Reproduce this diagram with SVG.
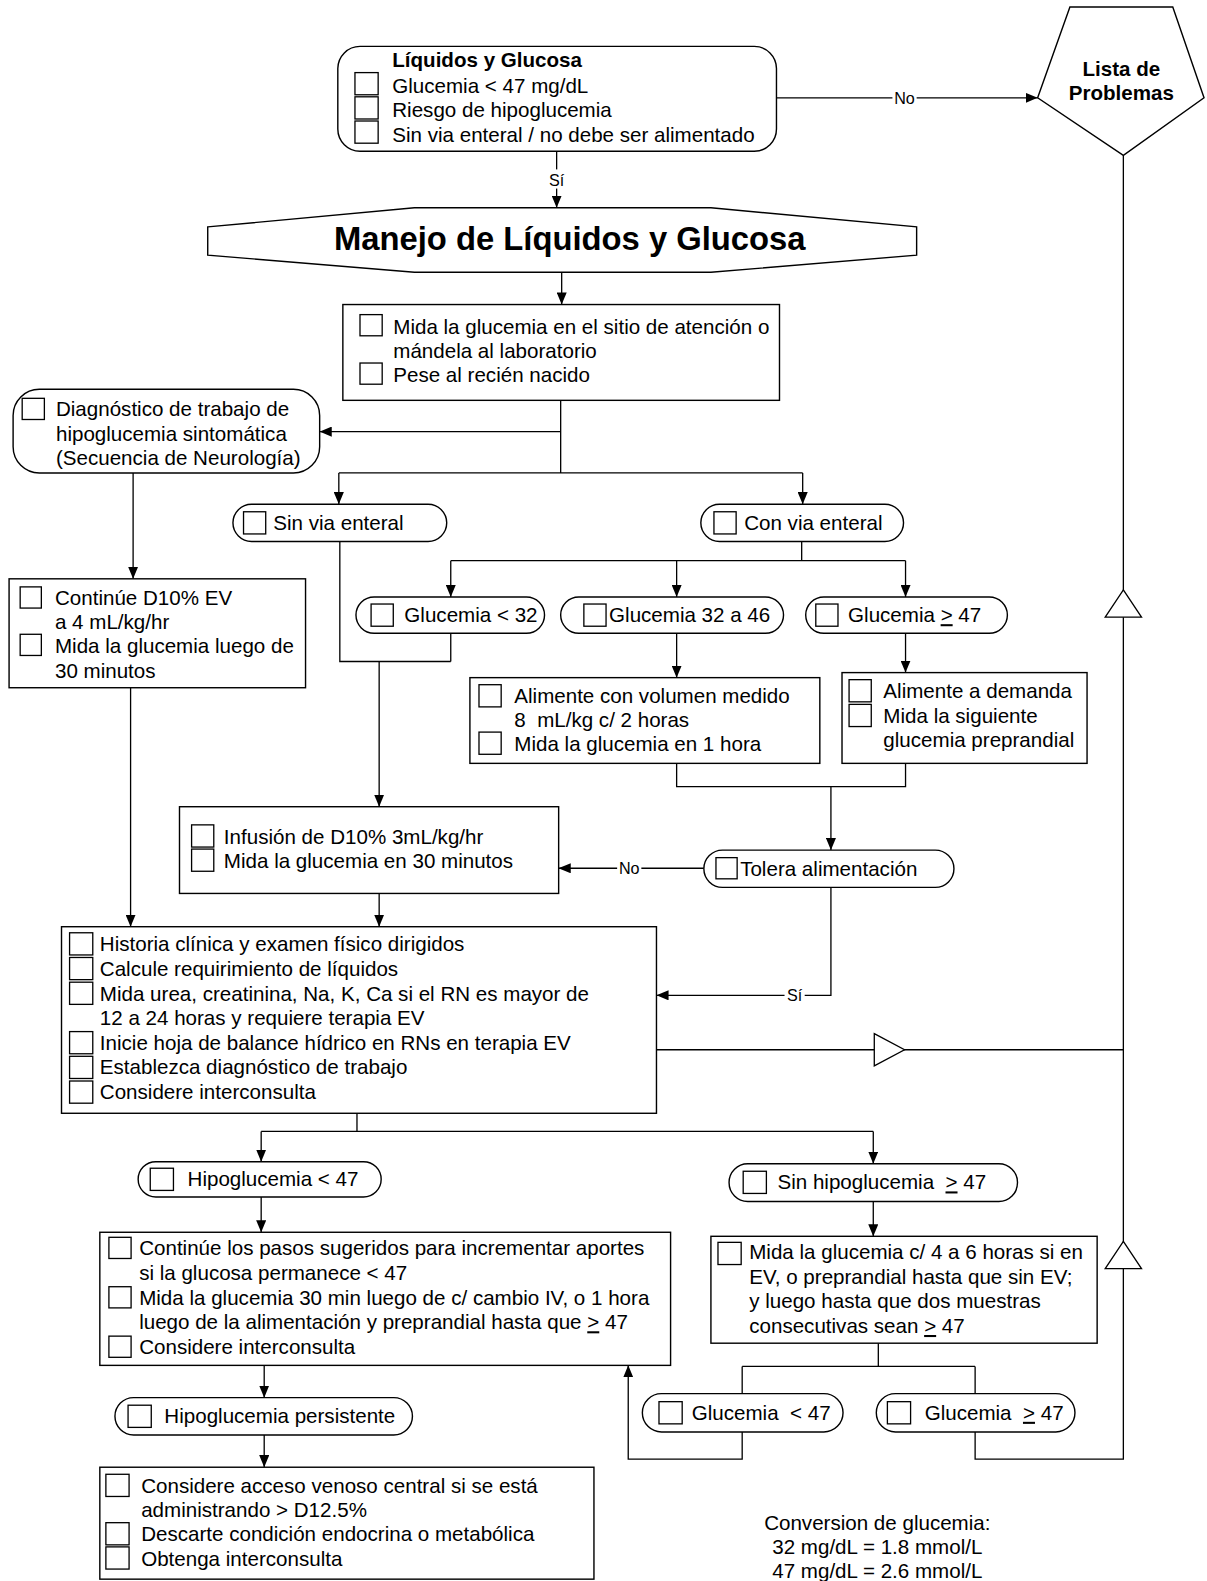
<svg xmlns="http://www.w3.org/2000/svg" width="1207" height="1581" viewBox="0 0 1207 1581">
<defs>
<style>
.box{fill:#fff;stroke:#000;stroke-width:1.4}
.cb{fill:#fff;stroke:#000;stroke-width:1.3}
.t{font-family:"Liberation Sans",Arial,sans-serif;font-size:20.4px;fill:#000}
.b{font-weight:bold}
.pre{white-space:pre}
.c{fill:none;stroke:#000;stroke-width:1.3}
.a{marker-end:url(#ah)}
.lbl{font-family:"Liberation Sans",Arial,sans-serif;font-size:16px;fill:#000;text-anchor:middle}
.tri{fill:#fff;stroke:#000;stroke-width:1.3}
.u{text-decoration:underline}
</style>
<marker id="ah" markerUnits="userSpaceOnUse" markerWidth="12" markerHeight="10" refX="12" refY="5" orient="auto">
<path d="M0,0 L12,5 L0,10 z" fill="#000"/>
</marker>
</defs>
<rect width="1207" height="1581" fill="#fff"/>
<g transform="scale(1.0084)">
<g id="connectors">
<path class="c a" d="M770,97 H1029"/>
<rect x="885" y="89" width="24" height="16" fill="#fff"/>
<text class="lbl" x="897" y="103">No</text>
<path class="c a" d="M552,150 V206"/>
<rect x="542" y="168" width="20" height="19" fill="#fff"/>
<text class="lbl" x="552" y="184">Sí</text>
<path class="c a" d="M557,270 V302"/>
<path class="c" d="M556,397 V469"/>
<path class="c a" d="M556,428 H317"/>
<path class="c" d="M336,469 H796"/>
<path class="c a" d="M336,469 V500"/>
<path class="c a" d="M796,469 V500"/>
<path class="c a" d="M132,469 V574"/>
<path class="c" d="M795,537 V556 M447,556 H898"/>
<path class="c a" d="M447,556 V592"/>
<path class="c a" d="M671,556 V592"/>
<path class="c a" d="M898,556 V592"/>
<path class="c" d="M337,537 V656 H447 M447,628 V656"/>
<path class="c a" d="M376,656 V800"/>
<path class="c a" d="M671,628 V672"/>
<path class="c a" d="M898,628 V667"/>
<path class="c" d="M671,757 V780 H898 V757"/>
<path class="c a" d="M824,780 V843"/>
<path class="c a" d="M698,861 H554"/>
<rect x="612" y="853" width="24" height="16" fill="#fff"/>
<text class="lbl" x="624" y="867">No</text>
<path class="c a" d="M824,880 V987 H651"/>
<rect x="778" y="979" width="20" height="17" fill="#fff"/>
<text class="lbl" x="788" y="993">Sí</text>
<path class="c a" d="M376,886 V919"/>
<path class="c a" d="M129.5,682 V919"/>
<path class="c" d="M651,1041 H1114"/>
<polygon class="tri" points="867,1025 897,1041 867,1057"/>
<path class="c" d="M1114,154 V1447 H967 V1420"/>
<polygon class="tri" points="1114,585 1132,612 1096,612"/>
<polygon class="tri" points="1114,1231 1132,1258 1096,1258"/>
<path class="c" d="M354,1104 V1122 M259,1122 H866"/>
<path class="c a" d="M259,1122 V1152"/>
<path class="c a" d="M866,1122 V1154"/>
<path class="c a" d="M259,1187 V1222"/>
<path class="c a" d="M866,1191.5 V1226"/>
<path class="c a" d="M262,1354 V1386"/>
<path class="c a" d="M262,1423 V1455"/>
<path class="c" d="M871,1332 V1355 M736,1355 H967 M736,1355 V1382 M967,1355 V1382"/>
<path class="c a" d="M736,1420 V1447 H623 V1354"/>
</g>

<g id="n-inicio">
<rect class="box" x="335" y="46" width="435" height="104" rx="22"/>
<text class="t b" x="389" y="66.5">Líquidos y Glucosa</text>
<rect class="cb" x="352" y="72" width="23" height="22"/>
<rect class="cb" x="352" y="96" width="23" height="22"/>
<rect class="cb" x="352" y="120" width="23" height="22"/>
<text class="t" x="389" y="92">Glucemia &lt; 47 mg/dL</text>
<text class="t" x="389" y="116.5">Riesgo de hipoglucemia</text>
<text class="t" x="389" y="140.5">Sin via enteral / no debe ser alimentado</text>
</g>

<g id="n-lista">
<polygon class="box" points="1061,7 1163,7 1194,97 1114,154 1029,97"/>
<text class="t b" x="1112" y="75" text-anchor="middle">Lista de</text>
<text class="t b" x="1112" y="99" text-anchor="middle">Problemas</text>
</g>

<g id="n-manejo">
<polygon class="box" points="206,225 411,206 705,206 909,225 909,253 705,270 411,270 206,253"/>
<text class="t b" x="565" y="248" text-anchor="middle" style="font-size:32.5px">Manejo de Líquidos y Glucosa</text>
</g>

<g id="n-mida">
<rect class="box" x="340" y="302" width="433" height="95"/>
<rect class="cb" x="357" y="312" width="22" height="21"/>
<rect class="cb" x="357" y="360" width="22" height="21"/>
<text class="t" x="390" y="331">Mida la glucemia en el sitio de atención o</text>
<text class="t" x="390" y="355">mándela al laboratorio</text>
<text class="t" x="390" y="379">Pese al recién nacido</text>
</g>

<g id="n-diag">
<rect class="box" x="13" y="386" width="304" height="83" rx="26"/>
<rect class="cb" x="22" y="395" width="22" height="21"/>
<text class="t" x="55.5" y="413">Diagnóstico de trabajo de</text>
<text class="t" x="55.5" y="437">hipoglucemia sintomática</text>
<text class="t" x="55.5" y="461">(Secuencia de Neurología)</text>
</g>

<g id="n-continue">
<rect class="box" x="9" y="574" width="294" height="108"/>
<rect class="cb" x="20" y="582" width="21" height="21"/>
<rect class="cb" x="20" y="629" width="21" height="21"/>
<text class="t" x="54.5" y="600">Continúe D10% EV</text>
<text class="t" x="54.5" y="624">a 4 mL/kg/hr</text>
<text class="t" x="54.5" y="648">Mida la glucemia luego de</text>
<text class="t" x="54.5" y="672">30 minutos</text>
</g>

<g id="n-sinvia">
<rect class="box" x="231" y="500" width="212" height="37" rx="18.5"/>
<rect class="cb" x="241.5" y="507.5" width="22" height="22"/>
<text class="t" x="271" y="525.5">Sin via enteral</text>
</g>

<g id="n-convia">
<rect class="box" x="695" y="500" width="201" height="37" rx="18.5"/>
<rect class="cb" x="708" y="507.5" width="22" height="22"/>
<text class="t" x="738" y="525.5">Con via enteral</text>
</g>

<g id="n-g32">
<rect class="box" x="353" y="592" width="187" height="36" rx="18"/>
<rect class="cb" x="368" y="599" width="22" height="22"/>
<text class="t" x="401" y="617">Glucemia &lt; 32</text>
</g>

<g id="n-g3246">
<rect class="box" x="556" y="592" width="221" height="36" rx="18"/>
<rect class="cb" x="579" y="599" width="22" height="22"/>
<text class="t" x="604" y="617">Glucemia 32 a 46</text>
</g>

<g id="n-g47">
<rect class="box" x="799" y="592" width="200" height="36" rx="18"/>
<rect class="cb" x="809" y="599" width="22" height="22"/>
<text class="t" x="841" y="617">Glucemia <tspan class="u">&gt;</tspan> 47</text>
</g>

<g id="n-alim">
<rect class="box" x="466" y="672" width="347" height="85"/>
<rect class="cb" x="475" y="679" width="22" height="22"/>
<rect class="cb" x="475" y="726" width="22" height="22"/>
<text class="t" x="510" y="697">Alimente con volumen medido</text>
<text class="t pre" x="510" y="721">8  mL/kg c/ 2 horas</text>
<text class="t" x="510" y="745">Mida la glucemia en 1 hora</text>
</g>

<g id="n-demanda">
<rect class="box" x="835" y="667" width="243" height="90"/>
<rect class="cb" x="842" y="674" width="22" height="22"/>
<rect class="cb" x="842" y="698.5" width="22" height="22"/>
<text class="t" x="876" y="692">Alimente a demanda</text>
<text class="t" x="876" y="716.5">Mida la siguiente</text>
<text class="t" x="876" y="741">glucemia preprandial</text>
</g>

<g id="n-tolera">
<rect class="box" x="698" y="843" width="248" height="37" rx="18.5"/>
<rect class="cb" x="710" y="850.5" width="21" height="21"/>
<text class="t" x="734" y="868.5">Tolera alimentación</text>
</g>

<g id="n-infusion">
<rect class="box" x="178" y="800" width="376" height="86"/>
<rect class="cb" x="190" y="818" width="22" height="22"/>
<rect class="cb" x="190" y="842" width="22" height="22"/>
<text class="t" x="222" y="837">Infusión de D10% 3mL/kg/hr</text>
<text class="t" x="222" y="861">Mida la glucemia en 30 minutos</text>
</g>

<g id="n-historia">
<rect class="box" x="61" y="919" width="590" height="185"/>
<rect class="cb" x="69" y="925" width="23" height="22"/>
<rect class="cb" x="69" y="949.5" width="23" height="22"/>
<rect class="cb" x="69" y="974" width="23" height="22"/>
<rect class="cb" x="69" y="1023" width="23" height="22"/>
<rect class="cb" x="69" y="1047.5" width="23" height="22"/>
<rect class="cb" x="69" y="1072" width="23" height="22"/>
<text class="t" x="99" y="943.5">Historia clínica y examen físico dirigidos</text>
<text class="t" x="99" y="967.9">Calcule requirimiento de líquidos</text>
<text class="t" x="99" y="992.3">Mida urea, creatinina, Na, K, Ca si el RN es mayor de</text>
<text class="t" x="99" y="1016.7">12 a 24 horas y requiere terapia EV</text>
<text class="t" x="99" y="1041.1">Inicie hoja de balance hídrico en RNs en terapia EV</text>
<text class="t" x="99" y="1065.5">Establezca diagnóstico de trabajo</text>
<text class="t" x="99" y="1089.9">Considere interconsulta</text>
</g>

<g id="n-hipo">
<rect class="box" x="137" y="1152" width="241" height="35" rx="17.5"/>
<rect class="cb" x="149" y="1158.5" width="23" height="22"/>
<text class="t" x="186" y="1176.5">Hipoglucemia &lt; 47</text>
</g>

<g id="n-sinhipo">
<rect class="box" x="723" y="1154" width="286" height="37.5" rx="18.5"/>
<rect class="cb" x="737" y="1161.5" width="23" height="22"/>
<text class="t pre" x="771" y="1179.5">Sin hipoglucemia  <tspan class="u">&gt;</tspan> 47</text>
</g>

<g id="n-pasos">
<rect class="box" x="99" y="1222" width="566" height="132"/>
<rect class="cb" x="108" y="1227" width="22" height="21"/>
<rect class="cb" x="108" y="1276" width="22" height="21"/>
<rect class="cb" x="108" y="1325" width="22" height="21"/>
<text class="t" x="138" y="1245">Continúe los pasos sugeridos para incrementar aportes</text>
<text class="t" x="138" y="1269.4">si la glucosa permanece &lt; 47</text>
<text class="t" x="138" y="1293.8">Mida la glucemia 30 min luego de c/ cambio IV, o 1 hora</text>
<text class="t" x="138" y="1318.2">luego de la alimentación y preprandial hasta que <tspan class="u">&gt;</tspan> 47</text>
<text class="t" x="138" y="1342.6">Considere interconsulta</text>
</g>

<g id="n-mida46">
<rect class="box" x="705" y="1226" width="383" height="106"/>
<rect class="cb" x="712" y="1232" width="23" height="22"/>
<text class="t" x="743" y="1249">Mida la glucemia c/ 4 a 6 horas si en</text>
<text class="t" x="743" y="1273.3">EV, o preprandial hasta que sin EV;</text>
<text class="t" x="743" y="1297.6">y luego hasta que dos muestras</text>
<text class="t" x="743" y="1321.9">consecutivas sean <tspan class="u">&gt;</tspan> 47</text>
</g>

<g id="n-glt47">
<rect class="box" x="637" y="1382" width="199" height="38" rx="19"/>
<rect class="cb" x="653.5" y="1390" width="23" height="22"/>
<text class="t pre" x="686" y="1408">Glucemia  &lt; 47</text>
</g>

<g id="n-gge47">
<rect class="box" x="869" y="1382" width="197" height="38" rx="19"/>
<rect class="cb" x="880" y="1390" width="23" height="22"/>
<text class="t pre" x="917" y="1408">Glucemia  <tspan class="u">&gt;</tspan> 47</text>
</g>

<g id="n-persist">
<rect class="box" x="114" y="1386" width="295" height="37" rx="18.5"/>
<rect class="cb" x="127" y="1393.5" width="23" height="22"/>
<text class="t" x="163" y="1411">Hipoglucemia persistente</text>
</g>

<g id="n-final">
<rect class="box" x="99" y="1455" width="490" height="111"/>
<rect class="cb" x="105" y="1462" width="23" height="22"/>
<rect class="cb" x="105" y="1510" width="23" height="22"/>
<rect class="cb" x="105" y="1534" width="23" height="22"/>
<text class="t" x="140" y="1480.5">Considere acceso venoso central si se está</text>
<text class="t" x="140" y="1504.5">administrando &gt; D12.5%</text>
<text class="t" x="140" y="1528.5">Descarte condición endocrina o metabólica</text>
<text class="t" x="140" y="1552.5">Obtenga interconsulta</text>
</g>

<g id="n-conversion">
<text class="t" x="870" y="1517" text-anchor="middle">Conversion de glucemia:</text>
<text class="t" x="870" y="1541" text-anchor="middle">32 mg/dL = 1.8 mmol/L</text>
<text class="t" x="870" y="1565" text-anchor="middle">47 mg/dL = 2.6 mmol/L</text>
</g>
</g>
</svg>
